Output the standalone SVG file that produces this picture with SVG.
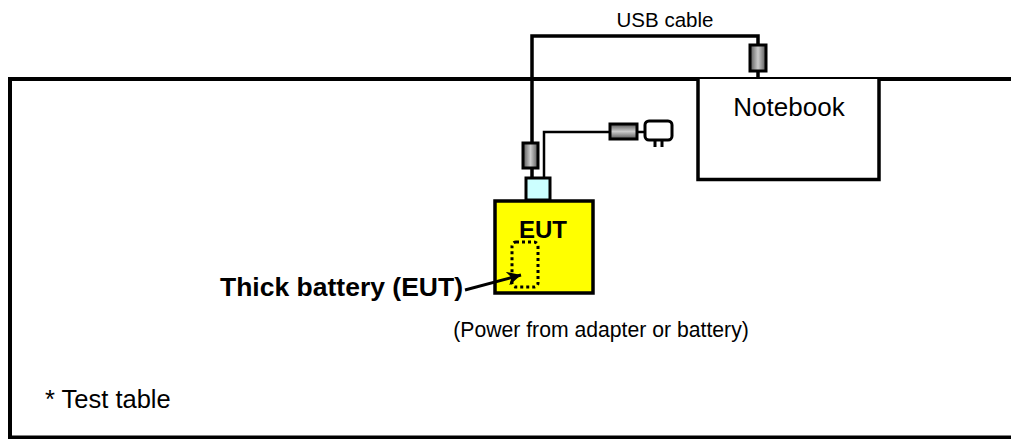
<svg xmlns="http://www.w3.org/2000/svg" width="1011" height="439" viewBox="0 0 1011 439">
<defs>
<style>
.t{font-family:"Liberation Sans",Arial,sans-serif;fill:#000}
.b{font-weight:bold}
.ln{fill:none;stroke:#000;stroke-width:3.5}
.thin{fill:none;stroke:#000;stroke-width:2.5}
.box{stroke:#000;stroke-width:3}
</style>
<linearGradient id="gv" x1="0" y1="0" x2="1" y2="0">
<stop offset="0" stop-color="#555"/><stop offset="0.5" stop-color="#ccc"/><stop offset="1" stop-color="#555"/>
</linearGradient>
<linearGradient id="gh" x1="0" y1="0" x2="0" y2="1">
<stop offset="0" stop-color="#555"/><stop offset="0.5" stop-color="#ccc"/><stop offset="1" stop-color="#555"/>
</linearGradient>
<marker id="ah" markerWidth="15" markerHeight="14" refX="10" refY="5" orient="auto" markerUnits="userSpaceOnUse" viewBox="0 0 10 10">
<path d="M0,0 L10,5 L0,10 L3,5 z" fill="#000"/>
</marker>
</defs>
<rect width="1011" height="439" fill="#fff"/>
<g id="table">
<path d="M1012,79 H10 V437.5 H1012" fill="none" stroke="#000" stroke-width="4"/>
<text class="t" x="45" y="408" font-size="25.5">* Test table</text>
</g>
<g id="usb-conn-eut">
<rect class="box" x="523" y="143" width="15" height="25" fill="url(#gv)"/>
</g>
<g id="usb-conn-nb">
<rect class="box" x="750" y="45" width="16" height="26" fill="url(#gv)"/>
</g>
<g id="power-conn">
<rect class="box" x="610" y="124" width="27" height="15" fill="url(#gh)"/>
</g>
<g id="plug">
<rect x="645" y="121" width="27" height="19" rx="4" fill="#fff" stroke="#000" stroke-width="3"/>
<path d="M655,140 V147 M662,140 V147" stroke="#000" stroke-width="3"/>
</g>
<g id="notebook">
<path d="M698,79 V179.5 H879 V79" fill="#fff" stroke="#000" stroke-width="3.5"/>
<text class="t" x="789" y="116" font-size="26" text-anchor="middle">Notebook</text>
</g>
<g id="usb-port">
<rect class="box" x="526" y="178" width="24" height="22" fill="#ccffff"/>
</g>
<g id="eut">
<rect x="495" y="201" width="98" height="92" fill="#ffff00" stroke="#000" stroke-width="3.5"/>
<text class="t b" x="543" y="238" font-size="24" text-anchor="middle">EUT</text>
<rect x="512" y="242" width="26" height="45" rx="4" fill="none" stroke="#000" stroke-width="3" stroke-dasharray="3 3"/>
</g>
<g id="connectors">
<path class="ln" d="M532,143 V36 H758 V45"/>
<path class="ln" d="M758,71 V79"/>
<path class="ln" d="M532,168 V178"/>
<path class="thin" d="M544,178 V132 H610"/>
<path class="thin" d="M637,132 H645"/>
<path d="M465,290 L521,275" fill="none" stroke="#000" stroke-width="3" marker-end="url(#ah)"/>
</g>
<g id="labels">
<text class="t b" x="220" y="296" font-size="26.5">Thick battery (EUT)</text>
<text class="t" x="665" y="27" font-size="20.5" text-anchor="middle">USB cable</text>
<text class="t" x="601" y="337" font-size="21.2" text-anchor="middle">(Power from adapter or battery)</text>
</g>
</svg>
